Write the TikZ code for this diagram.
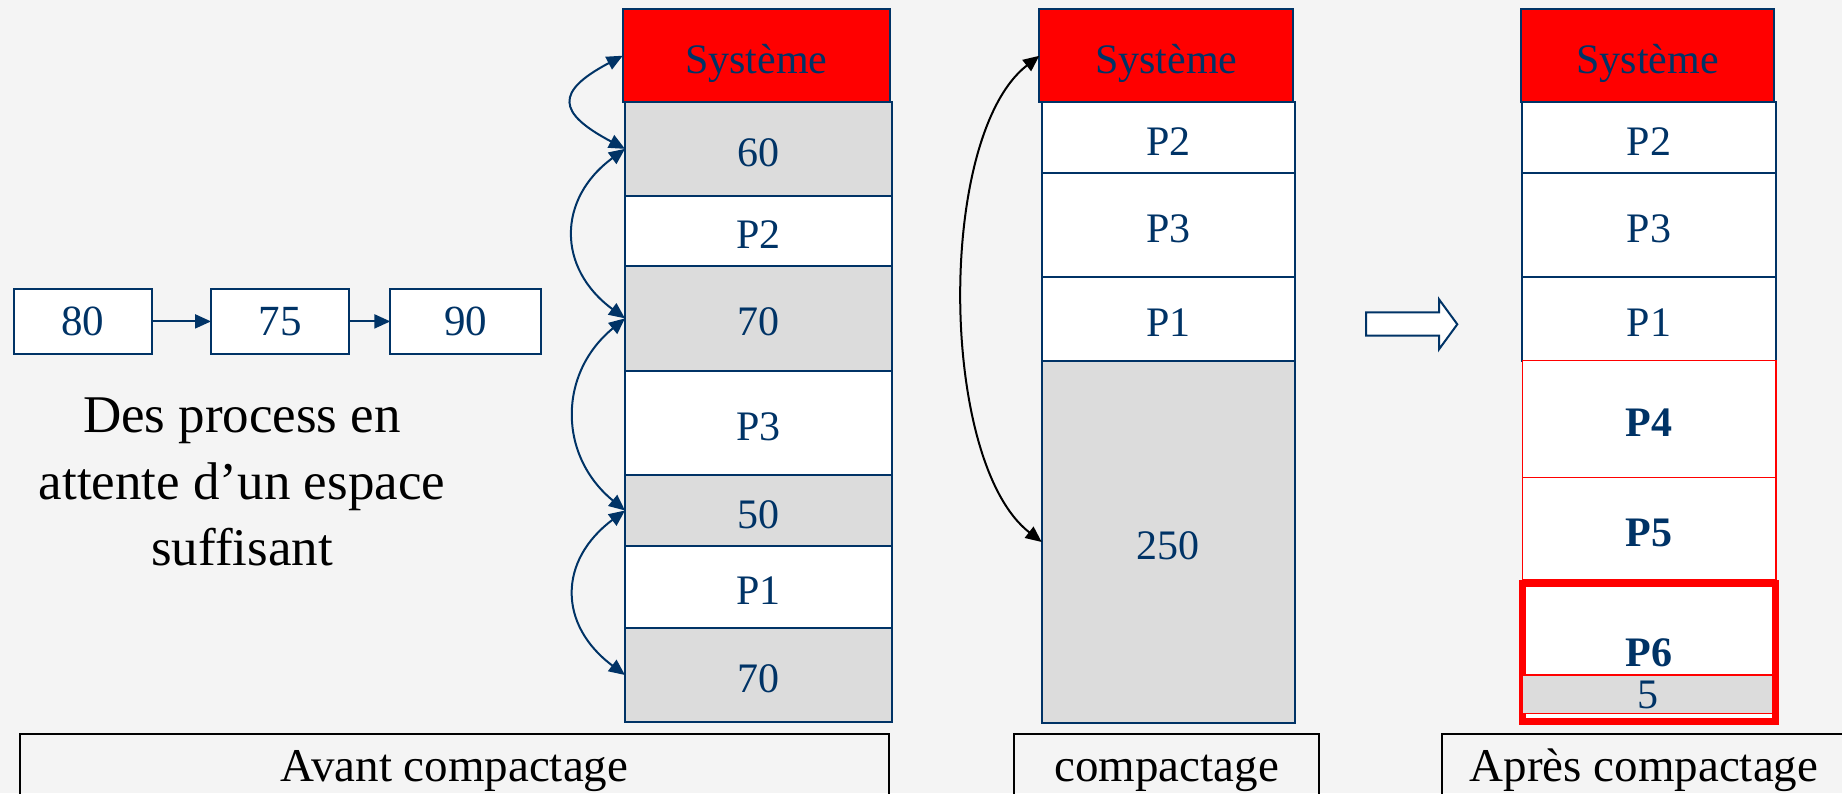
\documentclass[tikz,border=0pt]{standalone}
\usepackage{fontspec}
\setmainfont{Liberation Serif}
\usetikzlibrary{arrows.meta}
\definecolor{navy}{RGB}{0,51,102}
\definecolor{cellgray}{RGB}{220,220,220}
\definecolor{paper}{RGB}{244,244,244}
\begin{document}
\begin{tikzpicture}[x=0.5pt,y=-0.5pt,
  sz/.style 2 args={minimum width=#1*0.5pt, minimum height=#2*0.5pt},
  cell/.style={draw=navy, line width=1pt, inner sep=0pt, outer sep=0pt,
    text=navy, font=\fontsize{21}{25}\selectfont, text height=17.5pt, text depth=0pt},
  sysbox/.style={cell, fill=red},
  hole/.style={cell, fill=cellgray},
  used/.style={cell, fill=white},
  newproc/.style={cell, draw=red, line width=0.7pt, fill=white,
    font=\fontsize{21}{25}\selectfont\bfseries},
  queue/.style={cell, fill=white, font=\fontsize{21.5}{26}\selectfont, text height=14.5pt},
  caption/.style={draw=black, line width=1pt, inner sep=0pt, outer sep=0pt,
    anchor=base, text=black, font=\fontsize{23.5}{28}\selectfont,
    text height=23.5pt, text depth=14.5pt},
  link/.style={draw=navy, line width=1pt, {Triangle[length=8pt, width=7pt]}-{Triangle[length=8pt, width=7pt]}},
  move/.style={draw=black, line width=1pt, {Triangle[length=8pt, width=7pt]}-{Triangle[length=8pt, width=7pt]}},
  qarrow/.style={draw=navy, line width=1pt, -{Triangle[length=8pt, width=7pt]}}]

\useasboundingbox (0,0) rectangle (1842,793);
\clip (0,0) rectangle (1842,793);
\fill[paper] (0,0) rectangle (1842,793);

% waiting queue
\node[queue, sz={138.6}{65}] (q80) at (82.9,321.4) {80};
\node[queue, sz={137.9}{65}] (q75) at (280,321.4) {75};
\node[queue, sz={150.7}{65}] (q90) at (465.7,321.4) {90};
\draw[qarrow] (q80) -- (q75);
\draw[qarrow] (q75) -- (q90);
\node[align=center, text=black, inner sep=0pt, font=\fontsize{26.5}{33.2}\selectfont] (wait) at (242,482)
  {Des process en\\attente d’un espace\\suffisant};

% memory before compaction
\node[sysbox, sz={267.3}{92.7}] (sysA) at (756.4,55.7) {Système};
\node[hole, sz={267}{93.7}]  (h60)  at (758.5,148.85) {60};
\node[used, sz={267}{70}]    (p2a)  at (758.5,230.7)  {P2};
\node[hole, sz={267}{105.3}] (h70a) at (758.5,318.35) {70};
\node[used, sz={267}{104}]   (p3a)  at (758.5,423)    {P3};
\node[hole, sz={267}{71}]    (h50)  at (758.5,510.5)  {50};
\node[used, sz={267}{82.3}]  (p1a)  at (758.5,587.15) {P1};
\node[hole, sz={267}{93.4}]  (h70b) at (758.5,675)    {70};

% chain of free blocks
\draw[link] (h60.west) .. controls +(-68,-36) and +(-68,36) .. (sysA.west);
\draw[link] (h60.west) .. controls +(-68,50) and +(-68,-50) .. (h70a.west);
\draw[link] (h70a.west) .. controls +(-67,55) and +(-67,-55) .. (h50.west);
\draw[link] (h50.west) .. controls +(-67,50) and +(-67,-50) .. (h70b.west);

% memory during compaction
\node[sysbox, sz={254}{93}] (sysB) at (1166.3,55.8) {Système};
\node[used, sz={253.3}{71}]    (p2b)  at (1168.35,137.8) {P2};
\node[used, sz={253.3}{104}]   (p3b)  at (1168.35,225.3) {P3};
\node[used, sz={253.3}{83.4}]  (p1b)  at (1168.35,319)   {P1};
\node[hole, sz={253.3}{362.6}] (h250) at (1168.35,542)   {250};
\draw[move] (h250.west) .. controls +(-103,-80) and +(-103,80) .. (sysB.west);

% hollow arrow
\draw[navy, line width=1pt, fill=white, line join=miter]
  (1366,312.3) -- (1439,312.3) -- (1439,299.3) -- (1457.3,324.3)
  -- (1439,349.3) -- (1439,335.7) -- (1366,335.7) -- cycle;

% memory after compaction
\node[sysbox, sz={253.6}{93}] (sysC) at (1647.5,55.8) {Système};
\node[used, sz={253.7}{71}]    (p2c) at (1649.15,137.8) {P2};
\node[used, sz={253.7}{104}]   (p3c) at (1649.15,225.3) {P3};
\node[used, sz={253.7}{83.4}]  (p1c) at (1649.15,319)   {P1};
\node[newproc, sz={253.7}{117}]   (p4) at (1649.15,419.2)  {P4};
\node[newproc, sz={253.7}{102.3}] (p5) at (1649.15,528.85) {P5};
\node[draw=red, line width=3.5pt, fill=white, inner sep=0pt, outer sep=0pt,
  sz={253}{138}] (p6box) at (1649.3,652.5) {};
\node[text=navy, inner sep=0pt, font=\fontsize{21}{25}\selectfont\bfseries,
  text height=13.9pt, text depth=0pt] (p6) at (1649,653) {P6};
\node[hole, draw=red, line width=0.7pt, sz={251}{38.5}, text height=13.9pt] (h5) at (1647.5,694.25) {5};

% captions
\node[caption, sz={869}{0}]   (before) at (454.5,781)  {Avant compactage};
\node[caption, sz={305.3}{0}] (during) at (1166.65,781) {compactage};
\node[caption, sz={404}{0}]   (after)  at (1644,781)   {Après compactage};
\end{tikzpicture}
\end{document}
